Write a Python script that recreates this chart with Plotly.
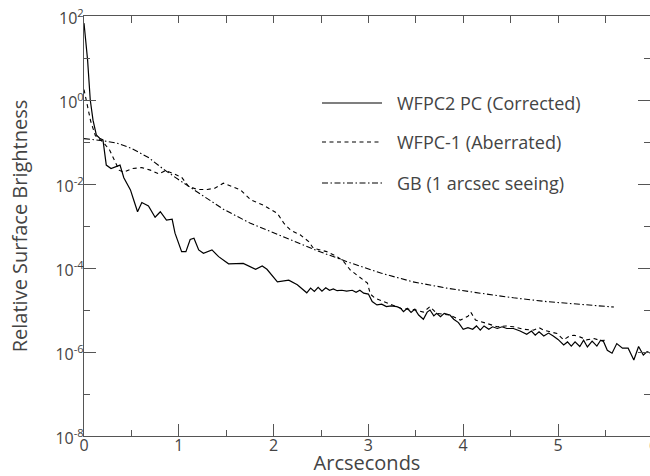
import numpy as np
import plotly.graph_objects as go

# ---- data (log10 of relative surface brightness) ----
pc_x = [0, 0.038, 0.066, 0.095, 0.13, 0.165, 0.2, 0.235, 0.285, 0.35, 0.38, 0.42, 0.45, 0.49, 0.52,
        0.565, 0.61, 0.68, 0.75, 0.805, 0.87, 0.93, 0.96, 1.03, 1.075, 1.12, 1.16, 1.21, 1.26, 1.35,
        1.42, 1.525, 1.68, 1.81, 1.88, 1.93, 2.04, 2.16, 2.25, 2.35, 2.39, 2.43, 2.47, 2.51, 2.55,
        2.59, 2.63, 2.67, 2.72, 2.77, 2.83, 2.87, 2.91, 2.95, 3.0, 3.04, 3.09, 3.14, 3.19, 3.24,
        3.3, 3.34, 3.37, 3.41, 3.45, 3.49, 3.53, 3.58, 3.62, 3.65, 3.69, 3.72, 3.76, 3.8, 3.86,
        3.9, 3.95, 4.0, 4.05, 4.1, 4.14, 4.18, 4.22, 4.27, 4.31, 4.36, 4.41, 4.46, 4.53, 4.6,
        4.67, 4.72, 4.76, 4.8, 4.85, 4.9, 4.95, 5.0, 5.06, 5.1, 5.14, 5.18, 5.23, 5.27, 5.31,
        5.36, 5.41, 5.45, 5.48, 5.52, 5.57, 5.62, 5.68, 5.74, 5.8, 5.85, 5.9, 5.94, 5.98, 6.0]
pc_log = [1.83, 0.95, 0.0, -0.48, -0.83, -0.91, -0.95, -1.55, -1.63, -1.57, -1.55, -1.85, -1.98, -2.14, -2.35,
          -2.66, -2.44, -2.52, -2.79, -2.66, -2.86, -2.84, -3.17, -3.61, -3.61, -3.32, -3.29, -3.57, -3.65, -3.57,
          -3.73, -3.9, -3.89, -4.03, -3.95, -4.03, -4.33, -4.29, -4.40, -4.59, -4.48, -4.56, -4.46, -4.55, -4.47,
          -4.53, -4.50, -4.54, -4.53, -4.55, -4.53, -4.58, -4.53, -4.60, -4.62, -4.80, -4.88, -4.86, -4.92, -4.90,
          -4.92, -4.96, -5.04, -4.96, -5.06, -4.98, -5.12, -5.22, -5.05, -5.00, -5.14, -5.08, -5.16, -5.08, -5.12,
          -5.22, -5.30, -5.46, -5.42, -5.46, -5.38, -5.48, -5.38, -5.46, -5.40, -5.44, -5.40, -5.44, -5.44, -5.50,
          -5.58, -5.50, -5.60, -5.52, -5.62, -5.55, -5.62, -5.70, -5.83, -5.76, -5.86, -5.76, -5.87, -5.72, -5.88,
          -5.74, -5.86, -5.72, -5.75, -5.96, -6.03, -5.80, -5.91, -5.91, -6.19, -5.87, -6.07, -5.99, -6.03, -5.95]

wf1_x = [0, 0.03, 0.07, 0.12, 0.2, 0.27, 0.32, 0.37, 0.42, 0.51, 0.61, 0.70, 0.79, 0.86, 0.95, 1.03,
         1.10, 1.19, 1.30, 1.38, 1.47, 1.56, 1.65, 1.76, 1.89, 2.04, 2.11, 2.18, 2.28, 2.37, 2.42, 2.56,
         2.67, 2.74, 2.81, 2.88, 2.99, 3.02, 3.07, 3.16, 3.27, 3.34, 3.42, 3.5, 3.58, 3.65, 3.72, 3.8,
         3.86, 3.97, 4.05, 4.08, 4.13, 4.25, 4.36, 4.45, 4.53, 4.64, 4.74, 4.8, 4.85, 4.99, 5.06, 5.12,
         5.17, 5.23, 5.30, 5.38, 5.45, 5.53]
wf1_log = [0.25, -0.10, -0.50, -0.85, -1.00, -1.19, -1.43, -1.67, -1.72, -1.63, -1.61, -1.67, -1.76, -1.68, -1.76, -1.84,
           -2.05, -2.13, -2.13, -2.10, -1.98, -2.06, -2.14, -2.38, -2.50, -2.70, -2.94, -3.10, -3.21, -3.37, -3.53, -3.61,
           -3.73, -3.85, -4.05, -4.17, -4.36, -4.62, -4.72, -4.80, -4.90, -4.96, -4.98, -5.00, -5.05, -4.92, -5.08, -5.10,
           -5.12, -5.24, -5.15, -5.05, -5.24, -5.32, -5.40, -5.38, -5.40, -5.46, -5.48, -5.42, -5.48, -5.56, -5.71, -5.62,
           -5.60, -5.64, -5.71, -5.68, -5.73, -5.71]

gb_x = [0, 0.2, 0.35, 0.5, 0.68, 0.84, 1.0, 1.2, 1.47, 1.75, 2.1, 2.45, 2.8, 3.13, 3.47, 3.83, 4.18, 4.53, 4.88, 5.23, 5.59]
gb_log = [-0.92, -0.97, -1.03, -1.15, -1.37, -1.65, -1.90, -2.20, -2.60, -2.93, -3.25, -3.58, -3.87, -4.12, -4.33, -4.48,
          -4.60, -4.71, -4.80, -4.87, -4.93]

series_names = ["WFPC2 PC (Corrected)", "WFPC-1 (Aberrated)", "GB (1 arcsec seeing)"]

major_exp = [2, 0, -2, -4, -6, -8]
minor_exp = [1, -1, -3, -5, -7]
major_vals = [10.0 ** e for e in major_exp]
major_text = ["10<sup>%d</sup>" % e for e in major_exp]
minor_vals = [10.0 ** e for e in minor_exp]

x_major = [0, 1, 2, 3, 4, 5, 6]
x_minor = [0.5, 1.5, 2.5, 3.5, 4.5, 5.5]

# ---- figure ----
W, H = 650, 476
L, R, T, B = 84, 0, 16, 40
FONT = "'Open Sans', Lato, sans-serif"
AX = "#555555"
TXT = "#444444"
DASH = "4px,3.5px"
DASHDOT = "6px,2.5px,1.5px,2.5px"

fig = go.Figure()
fig.add_trace(go.Scatter(x=pc_x, y=np.power(10.0, pc_log), mode="lines", name=series_names[0],
                         line=dict(color="black", width=1.2), showlegend=False))
fig.add_trace(go.Scatter(x=wf1_x, y=np.power(10.0, wf1_log), mode="lines", name=series_names[1],
                         line=dict(color="black", width=1.1, dash=DASH), showlegend=False, xaxis="x2"))
fig.add_trace(go.Scatter(x=gb_x, y=np.power(10.0, gb_log), mode="lines", name=series_names[2],
                         line=dict(color="black", width=1.1, dash=DASHDOT), showlegend=False, yaxis="y2"))
# empty carriers for the minor-tick overlay axes
fig.add_trace(go.Scatter(x=[], y=[], yaxis="y3", showlegend=False, hoverinfo="skip"))
fig.add_trace(go.Scatter(x=[], y=[], yaxis="y4", showlegend=False, hoverinfo="skip"))
fig.add_trace(go.Scatter(x=[], y=[], xaxis="x3", showlegend=False, hoverinfo="skip"))

xr = [0, (W - L - R) / 94.8]
yr = [-8, 2]

def tickaxis(**kw):
    d = dict(ticks="inside", tickcolor=AX, tickwidth=1, showticklabels=False,
             showline=False, showgrid=False, zeroline=False)
    d.update(kw)
    return d

fig.update_layout(
    width=W, height=H, margin=dict(l=L, r=R, t=T, b=B, autoexpand=False),
    paper_bgcolor="white", plot_bgcolor="white",
    font=dict(family=FONT, color=TXT, size=16),
    showlegend=False,
    xaxis=dict(range=xr, tickvals=x_major, ticktext=[str(v) for v in x_major],
               ticks="inside", ticklen=12, tickcolor=AX, tickwidth=1, ticklabelstandoff=-5,
               showline=True, linecolor=AX, linewidth=1.2, showgrid=False, zeroline=False,
               tickfont=dict(size=16, color=TXT),
               title=dict(text="Arcseconds", font=dict(size=20, color=TXT), standoff=1)),
    xaxis2=dict(range=xr, overlaying="x", side="top", tickvals=x_major + x_minor,
                ticks="inside", ticklen=7, tickcolor=AX, showticklabels=False,
                showline=True, linecolor=AX, linewidth=1.2, showgrid=False, zeroline=False),
    xaxis3=tickaxis(range=xr, overlaying="x", side="bottom", tickvals=x_minor, ticklen=6),
    yaxis=dict(type="log", range=yr, tickvals=major_vals, ticktext=major_text,
               ticks="inside", ticklen=12, tickcolor=AX, tickwidth=1, ticklabelshift=2,
               ticklabelstandoff=-4,
               showline=True, linecolor=AX, linewidth=1.2, showgrid=False, zeroline=False,
               tickfont=dict(size=16, color=TXT),
               title=dict(text="Relative Surface Brightness", font=dict(size=20, color=TXT), standoff=22)),
    yaxis2=tickaxis(type="log", range=yr, overlaying="y", side="right", tickvals=major_vals, ticklen=12),
    yaxis3=tickaxis(type="log", range=yr, overlaying="y", side="left", tickvals=minor_vals, ticklen=6),
    yaxis4=tickaxis(type="log", range=yr, overlaying="y", side="right", tickvals=minor_vals, ticklen=6),
)

# legend drawn as line samples + labels (paper coords)
pw, ph = W - L - R, H - T - B
def px2x(px):
    return (px - L) / pw
def py2y(py):
    return (H - B - py) / ph

rows = [103, 142, 183]
dashes = ["solid", DASH, DASHDOT]
for name, ry, d in zip(series_names, rows, dashes):
    fig.add_shape(type="line", xref="paper", yref="paper", x0=px2x(322), x1=px2x(382),
                  y0=py2y(ry), y1=py2y(ry), line=dict(color="black", width=1.1, dash=d))
    fig.add_annotation(xref="paper", yref="paper", x=px2x(395), y=py2y(ry), text=name,
                       showarrow=False, xanchor="left", yanchor="middle",
                       font=dict(size=18, color=TXT, family=FONT))

# partially visible "6" at the right edge
fig.add_annotation(xref="paper", yref="paper", x=px2x(653), y=py2y(445), text="6",
                   showarrow=False, xanchor="center", yanchor="middle",
                   font=dict(size=16, color=TXT, family=FONT))

fig.write_html("out.html")
